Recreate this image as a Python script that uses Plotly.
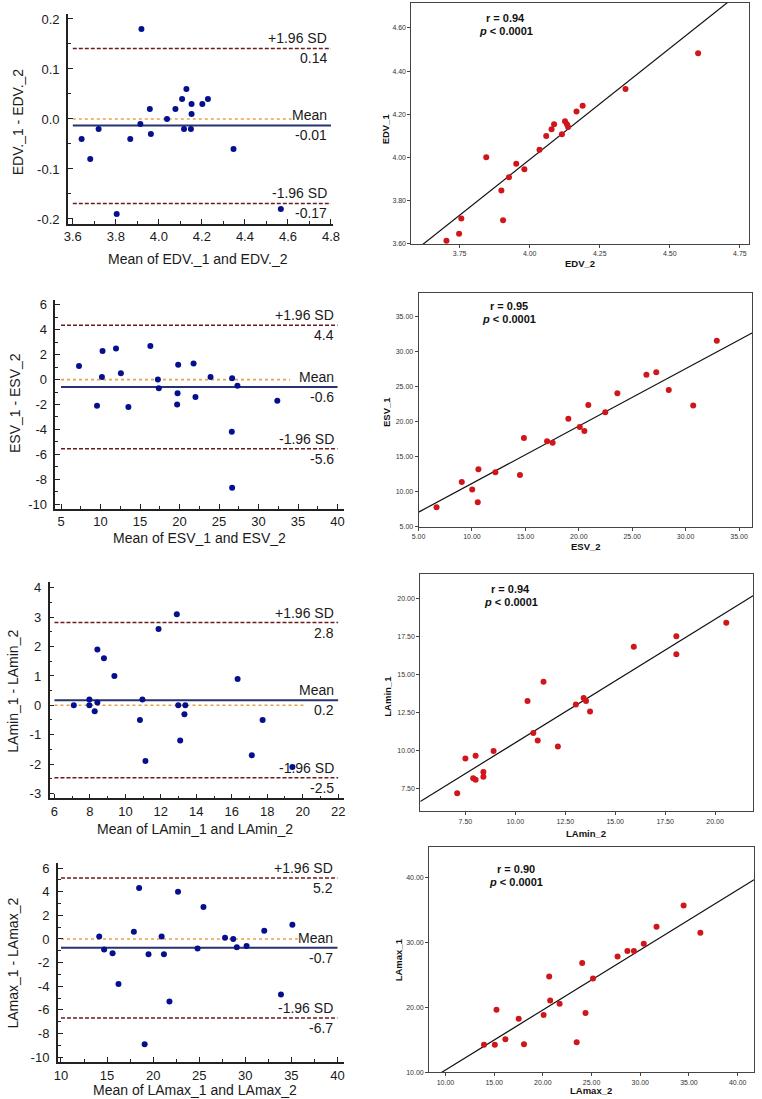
import numpy as np
import plotly.graph_objects as go

# ---------------- data ----------------
# Bland-Altman: EDV
edv_ba_mean = [3.641, 3.681, 3.720, 3.804, 3.867, 3.914, 3.919, 3.958, 3.963, 4.038, 4.077,
               4.108, 4.117, 4.128, 4.152, 4.152, 4.149, 4.202, 4.228, 4.347, 4.567]
edv_ba_diff = [-0.04, -0.08, -0.02, -0.19, -0.04, -0.01, 0.18, 0.02, -0.03, 0.00, 0.02,
               0.04, -0.02, 0.06, 0.03, 0.01, -0.02, 0.03, 0.04, -0.06, -0.18]
edv_limits = [0.141, -0.013, -0.169]          # +1.96 SD, mean, -1.96 SD

# Bland-Altman: ESV
esv_ba_mean = [7.28, 9.56, 10.26, 10.18, 11.96, 12.58, 13.53, 16.31, 17.26, 17.38, 19.75,
               19.83, 19.70, 21.78, 22.02, 23.93, 26.66, 27.33, 26.62, 26.66, 32.38]
esv_ba_diff = [1.1, -2.1, 2.3, 0.2, 2.5, 0.5, -2.2, 2.7, 0.0, -0.7, -1.1,
               1.2, -2.0, 1.3, -1.4, 0.2, 0.1, -0.5, -4.2, -8.7, -1.7]
esv_limits = [4.37, -0.59, -5.56]

# Bland-Altman: LAmin
lamin_ba_mean = [7.09, 7.97, 7.97, 8.27, 8.42, 8.42, 8.79, 9.38, 10.82, 10.96, 11.13,
                 11.87, 12.90, 12.98, 13.09, 13.33, 13.38, 16.33, 17.13, 17.74, 19.42]
lamin_ba_diff = [0.0, 0.2, 0.0, -0.2, 0.1, 1.9, 1.6, 1.0, -0.5, 0.2, -1.9,
                 2.6, 3.1, 0.0, -1.2, -0.3, 0.0, 0.9, -1.7, -0.5, -2.1]
lamin_limits = [2.82, 0.17, -2.47]

# Bland-Altman: LAmax
lamax_ba_mean = [14.15, 14.68, 15.60, 16.24, 18.48, 17.91, 19.08, 19.50, 20.92, 21.17, 21.77,
                 22.70, 24.82, 25.46, 27.80, 28.69, 29.08, 30.14, 32.06, 33.87, 35.11]
lamax_ba_diff = [0.2, -0.9, -1.2, -3.8, 4.3, 0.6, -8.9, -1.3, 0.2, -1.3, -5.3,
                 4.0, -0.8, 2.7, 0.1, 0.0, -0.7, -0.6, 0.7, -4.7, 1.2]
lamax_limits = [5.16, -0.74, -6.69]

# Correlation scatter: EDV
edv_2 = [3.703, 3.748, 3.756, 3.845, 3.899, 3.905, 3.926, 3.952, 3.981, 4.035, 4.059,
         4.078, 4.087, 4.115, 4.126, 4.133, 4.137, 4.167, 4.189, 4.342, 4.601]
edv_1 = [3.615, 3.647, 3.718, 4.001, 3.847, 3.710, 3.908, 3.971, 3.945, 4.036, 4.099,
         4.131, 4.154, 4.107, 4.168, 4.154, 4.141, 4.213, 4.240, 4.317, 4.482]
# Correlation scatter: ESV
esv_2 = [6.68, 9.04, 10.02, 10.54, 10.60, 12.19, 14.49, 14.86, 17.03, 17.55, 19.02,
         20.09, 20.52, 20.89, 22.48, 23.61, 26.33, 27.25, 28.42, 30.71, 32.92]
esv_1 = [7.76, 11.38, 10.29, 8.48, 13.19, 12.76, 12.38, 17.67, 17.19, 17.00, 20.43,
         19.24, 18.67, 22.38, 21.33, 24.05, 26.71, 27.05, 24.52, 22.29, 31.57]
# Correlation scatter: LAmin
lamin_2 = [7.09, 7.50, 7.89, 8.01, 8.01, 8.40, 8.40, 8.91, 10.61, 10.90, 11.12,
           11.41, 12.13, 13.03, 13.42, 13.54, 13.74, 15.93, 18.06, 18.06, 20.56]
lamin_1 = [7.17, 9.46, 8.17, 8.07, 9.65, 8.57, 8.26, 9.96, 13.26, 11.15, 10.65,
           14.54, 10.26, 13.04, 13.46, 13.26, 12.57, 16.85, 17.54, 16.35, 18.43]
# Correlation scatter: LAmax
lamax_2 = [13.96, 15.07, 15.24, 16.15, 17.52, 18.06, 20.08, 20.65, 20.75, 21.72, 23.47,
           24.04, 24.38, 25.15, 27.67, 28.68, 29.35, 30.36, 31.67, 34.45, 36.17]
lamax_1 = [14.21, 14.21, 19.64, 15.08, 18.26, 14.31, 18.82, 24.77, 21.08, 20.56, 14.62,
           26.87, 19.13, 24.46, 27.85, 28.72, 28.72, 29.85, 32.46, 35.74, 31.54]

r_values = ["0.94", "0.95", "0.94", "0.90"]
p_text = "0.0001"

# tick values
ba_xticks = [
    [3.6, 3.8, 4.0, 4.2, 4.4, 4.6, 4.8],
    [5, 10, 15, 20, 25, 30, 35, 40],
    [6, 8, 10, 12, 14, 16, 18, 20, 22],
    [10, 15, 20, 25, 30, 35, 40],
]
ba_yticks = [
    [-0.2, -0.1, 0.0, 0.1, 0.2],
    [-10, -8, -6, -4, -2, 0, 2, 4, 6],
    [-3, -2, -1, 0, 1, 2, 3, 4],
    [-10, -8, -6, -4, -2, 0, 2, 4, 6],
]
sc_xticks = [
    [3.75, 4.00, 4.25, 4.50, 4.75],
    [5, 10, 15, 20, 25, 30, 35],
    [7.5, 10, 12.5, 15, 17.5, 20],
    [10, 15, 20, 25, 30, 35, 40],
]
sc_yticks = [
    [3.60, 3.80, 4.00, 4.20, 4.40, 4.60],
    [5, 10, 15, 20, 25, 30, 35],
    [7.5, 10, 12.5, 15, 17.5, 20],
    [10, 20, 30, 40],
]

# ---------------- layout constants ----------------
W, H = 762, 1099
FONT = "Liberation Sans, Arial, sans-serif"
TXT = "#1a1a1a"


def fx(p):
    return p / W


def fy(p):
    return 1 - p / H


fig = go.Figure()
annotations = []


def fmt(v, d):
    s = f"{v:.{d}f}"
    if s.startswith("-") and float(s) == 0:
        s = s[1:]
    return s


def mids(t):
    return [(a + b) / 2 for a, b in zip(t[:-1], t[1:])]


def ba_panel(i, mean, diff, limits, dec, xt, yt, xdec, ydec, box, xr, yr, zero_end,
             xtitle, ytitle, xtitle_pos, ytitle_pos):
    sfx = "" if i == 1 else str(i)
    xa, ya = "x" + sfx, "y" + sfx
    x0, x1 = xt[0], xt[-1]
    up, mn, lo = limits
    fig.add_trace(go.Scatter(x=[x0, zero_end], y=[0, 0], mode="lines",
                             line=dict(color="#E6A24C", width=1.6, dash="dot"),
                             xaxis=xa, yaxis=ya, hoverinfo="skip", showlegend=False))
    for v in (up, lo):
        fig.add_trace(go.Scatter(x=[x0, x1], y=[v, v], mode="lines",
                                 line=dict(color="#6A1C1C", width=1.6, dash="4px,2px"),
                                 xaxis=xa, yaxis=ya, hoverinfo="skip", showlegend=False))
    fig.add_trace(go.Scatter(x=[x0, x1], y=[mn, mn], mode="lines",
                             line=dict(color="#27336E", width=2),
                             xaxis=xa, yaxis=ya, hoverinfo="skip", showlegend=False))
    fig.add_trace(go.Scatter(x=mean, y=diff, mode="markers",
                             marker=dict(color="#05108F", size=6),
                             xaxis=xa, yaxis=ya, showlegend=False))
    l, t, r, b = box
    common = dict(showline=True, linecolor="#222", linewidth=1.5, ticks="inside",
                  ticklen=5, tickwidth=1.3, tickcolor="#222", showgrid=False,
                  zeroline=False, tickfont=dict(family=FONT, size=13, color=TXT))
    fig.update_layout(**{
        "xaxis" + sfx: dict(domain=[fx(l), fx(r)], range=xr, anchor=ya,
                            tickmode="array", tickvals=xt,
                            ticktext=[fmt(v, xdec) for v in xt],
                            minor=dict(ticks="inside", ticklen=3, tickwidth=1.2,
                                       tickcolor="#222", tickvals=mids(xt)),
                            ticklabelstandoff=0, **common),
        "yaxis" + sfx: dict(domain=[fy(b), fy(t)], range=yr, anchor=xa,
                            tickmode="array", tickvals=yt,
                            ticktext=[fmt(v, ydec) for v in yt],
                            minor=dict(ticks="inside", ticklen=3, tickwidth=1.2,
                                       tickcolor="#222", tickvals=mids(yt)),
                            ticklabelstandoff=4, **common),
    })
    lab = dict(xref=xa, yref=ya, x=x1, xanchor="right", showarrow=False, xshift=-2,
               font=dict(family=FONT, size=14, color=TXT))
    annotations.append(dict(text="+1.96 SD", y=up, yanchor="bottom", **lab))
    annotations.append(dict(text=fmt(up, dec), y=up, yanchor="top", **lab))
    annotations.append(dict(text="Mean", y=mn, yanchor="bottom", **lab))
    annotations.append(dict(text=fmt(mn, dec), y=mn, yanchor="top", **lab))
    annotations.append(dict(text="-1.96 SD", y=lo, yanchor="bottom", **lab))
    annotations.append(dict(text=fmt(lo, dec), y=lo, yanchor="top", **lab))
    annotations.append(dict(text=xtitle, xref="paper", yref="paper",
                            x=fx(xtitle_pos[0]), y=fy(xtitle_pos[1]), borderpad=0,
                            xanchor="center", yanchor="middle", showarrow=False,
                            font=dict(family=FONT, size=14, color=TXT)))
    annotations.append(dict(text=ytitle, xref="paper", yref="paper", textangle=-90,
                            x=fx(ytitle_pos[0]), y=fy(ytitle_pos[1]),
                            xanchor="center", yanchor="middle", showarrow=False,
                            font=dict(family=FONT, size=14, color=TXT)))


def sc_panel(i, xv, yv, xt, yt, box, xr, yr, xtitle, ytitle, xtitle_pos, ytitle_pos,
             rtxt, rpos):
    sfx = str(i)
    xa, ya = "x" + sfx, "y" + sfx
    slope, icpt = np.polyfit(np.array(xv), np.array(yv), 1)
    fx_line = np.array(xr)
    fig.add_trace(go.Scatter(x=fx_line, y=slope * fx_line + icpt, mode="lines",
                             line=dict(color="#111", width=1.2),
                             xaxis=xa, yaxis=ya, hoverinfo="skip", showlegend=False))
    fig.add_trace(go.Scatter(x=xv, y=yv, mode="markers",
                             marker=dict(color="#D0161B", size=6),
                             xaxis=xa, yaxis=ya, showlegend=False))
    l, t, r, b = box
    common = dict(showline=True, mirror=True, linecolor="#444", linewidth=1,
                  ticks="outside", ticklen=3, tickwidth=1, tickcolor="#444",
                  showgrid=False, zeroline=False,
                  tickfont=dict(family=FONT, size=7, color="#333"))
    fig.update_layout(**{
        "xaxis" + sfx: dict(domain=[fx(l), fx(r)], range=xr, anchor=ya,
                            tickmode="array", tickvals=xt,
                            ticktext=[fmt(v, 2) for v in xt], **common),
        "yaxis" + sfx: dict(domain=[fy(b), fy(t)], range=yr, anchor=xa,
                            tickmode="array", tickvals=yt,
                            ticktext=[fmt(v, 2) for v in yt], **common),
    })
    bold = dict(family=FONT, size=9.5, color="#111")
    annotations.append(dict(text="<b>" + xtitle + "</b>", xref="paper", yref="paper",
                            x=fx(xtitle_pos[0]), y=fy(xtitle_pos[1]), xanchor="center",
                            yanchor="middle", showarrow=False, font=bold, borderpad=0))
    annotations.append(dict(text="<b>" + ytitle + "</b>", xref="paper", yref="paper",
                            textangle=-90, x=fx(ytitle_pos[0]), y=fy(ytitle_pos[1]),
                            xanchor="center", yanchor="middle", showarrow=False, font=bold))
    rf = dict(family=FONT, size=11, color="#111")
    annotations.append(dict(text="<b>r = " + rtxt + "</b>", xref="paper", yref="paper",
                            x=fx(rpos[0]), y=fy(rpos[1]), xanchor="center",
                            yanchor="middle", showarrow=False, font=rf))
    annotations.append(dict(text="<b><i>p</i> &lt; " + p_text + "</b>", xref="paper",
                            yref="paper", x=fx(rpos[0]), y=fy(rpos[1] + 13),
                            xanchor="center", yanchor="middle", showarrow=False, font=rf))


ba_panel(1, edv_ba_mean, edv_ba_diff, edv_limits, 2, ba_xticks[0], ba_yticks[0], 1, 1,
         (62, 12, 332, 223), [3.577, 4.809], [-0.21, 0.21], 4.617,
         "Mean of EDV._1 and EDV._2", "EDV._1 - EDV._2", (195, 258), (12, 120))
ba_panel(2, esv_ba_mean, esv_ba_diff, esv_limits, 1, ba_xticks[1], ba_yticks[1], 0, 0,
         (49.3, 299.3, 343.3, 509.3), [4.29, 40.82], [-10.4, 6.4], 34.0,
         "Mean of ESV_1 and ESV_2", "ESV_1 - ESV_2", (196, 538), (8, 403))
ba_panel(3, lamin_ba_mean, lamin_ba_diff, lamin_limits, 1, ba_xticks[2], ba_yticks[2], 0, 0,
         (43.3, 582.7, 343.3, 800), [5.72, 22.33], [-3.17, 4.2], 20.2,
         "Mean of LAmin_1 and LAmin_2", "LAmin_1 - LAmin_2", (192, 831), (6, 692))
ba_panel(4, lamax_ba_mean, lamax_ba_diff, lamax_limits, 1, ba_xticks[3], ba_yticks[3], 0, 0,
         (51.7, 865, 343.3, 1065), [9.65, 40.71], [-10.42, 6.42], 36.2,
         "Mean of LAmax_1 and LAmax_2", "LAmax_1 - LAmax_2", (192, 1093), (6, 965))

sc_panel(5, edv_2, edv_1, sc_xticks[0], sc_yticks[0], (412, 1, 756, 243),
         [3.578, 4.783], [3.60, 4.715], "EDV_2", "EDV_1", (584, 263), (385, 127),
         r_values[0], (508, 16))
sc_panel(6, esv_2, esv_1, sc_xticks[1], sc_yticks[1], (419.3, 292.7, 759, 527),
         [5.0, 36.22], [5.0, 38.33], "ESV_2", "ESV_1", (590, 547), (386, 412),
         r_values[1], (511, 305))
sc_panel(7, lamin_2, lamin_1, sc_xticks[2], sc_yticks[2], (421, 574.3, 760, 813),
         [5.24, 21.9], [5.98, 21.67], "LAmin_2", "LAmin_1", (590, 835), (388, 697),
         r_values[2], (513, 590))
sc_panel(8, lamax_2, lamax_1, sc_xticks[3], sc_yticks[3], (430, 849.3, 761, 1075),
         [8.32, 41.68], [10.0, 44.72], "LAmax_2", "LAmax_1", (595, 1093), (399, 962),
         r_values[3], (519, 871))

fig.update_layout(width=W, height=H, margin=dict(l=0, r=0, t=0, b=0),
                  paper_bgcolor="white", plot_bgcolor="white",
                  font=dict(family=FONT, color=TXT), showlegend=False,
                  annotations=annotations)

post = (
    "document.documentElement.style.margin='0';"
    "document.documentElement.style.padding='0';"
    "document.documentElement.style.overflow='hidden';"
    "document.body.style.margin='0';"
    "document.body.style.padding='0';"
    "document.body.style.overflow='hidden';"
    "var d=document.getElementById('{plot_id}');"
    "d.style.display='block';"
    "d.parentElement.style.lineHeight='0';"
    "d.parentElement.style.height='1099px';"
    "d.parentElement.style.overflow='hidden';"
)
fig.write_html("out.html", config={"displayModeBar": False}, post_script=post)
